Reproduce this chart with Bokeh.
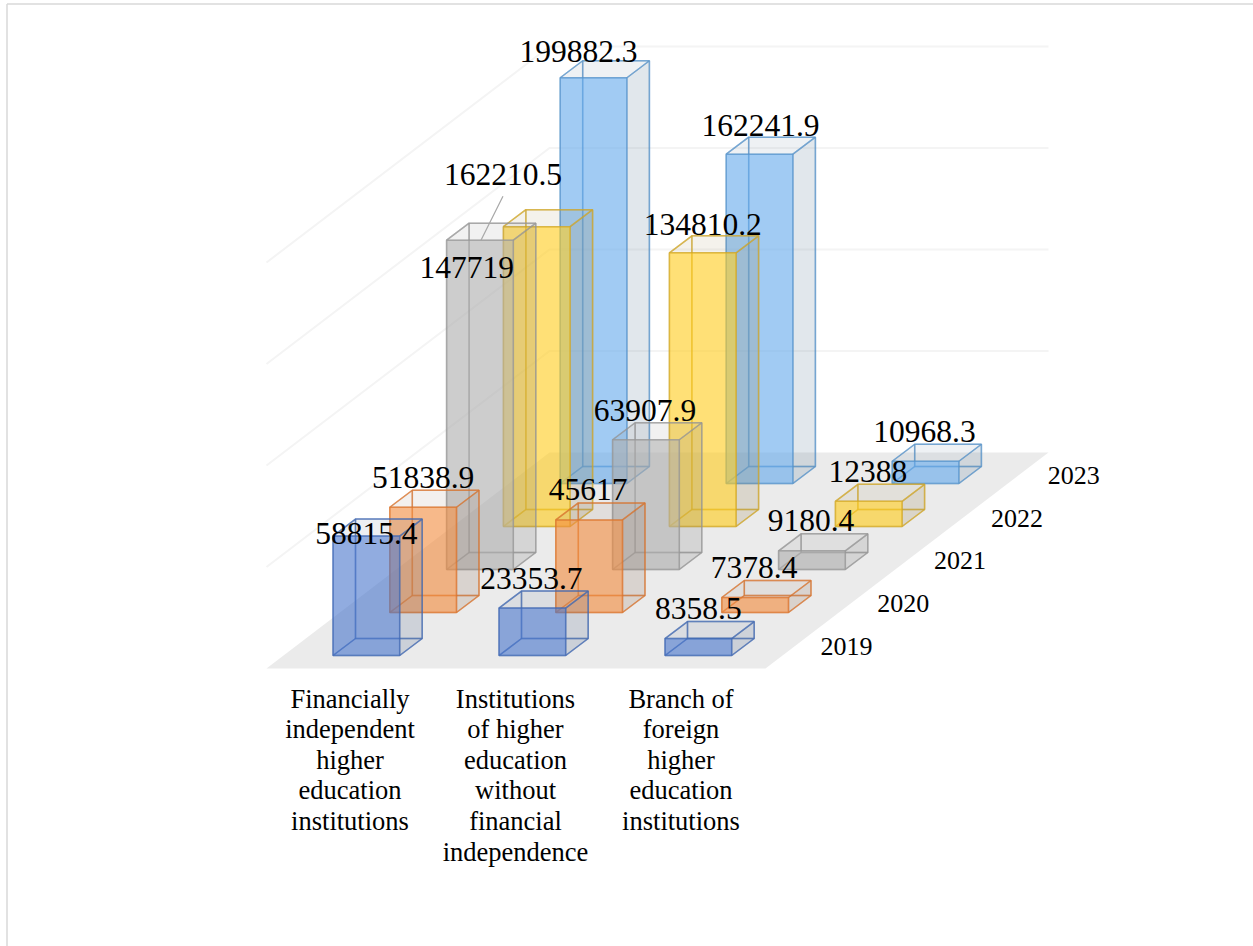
from bokeh.core.properties import value
from bokeh.embed import file_html
from bokeh.models import Range1d
from bokeh.plotting import figure
from bokeh.resources import INLINE

# Research funding by institution type and year
years = ["2019", "2020", "2021", "2022", "2023"]
category_lines = [
    ["Financially", "independent", "higher", "education", "institutions"],
    ["Institutions", "of higher", "education", "without", "financial", "independence"],
    ["Branch of", "foreign", "higher", "education", "institutions"],
]
financially_independent = [58815.4, 51838.9, 162210.5, 147719, 199882.3]
without_independence = [23353.7, 45617, 63907.9, 134810.2, 162241.9]
foreign_branch = [8358.5, 7378.4, 9180.4, 12388, 10968.3]
gridline_values = [50000, 100000, 150000, 200000]

series_values = [financially_independent, without_independence, foreign_branch]
year_colors = ["#4874CC", "#F28A3C", "#ABABAB", "#FFCC1A", "#62A8EB"]
edge_colors = ["#3f68b0", "#d9722c", "#969696", "#d0a526", "#5592c8"]
side_colors = ["#4f6688", "#8a6a55", "#777777", "#8f7c45", "#5a7a96"]

# Oblique projection of (category, year, value) onto the page
ORIGIN_X, ORIGIN_Y = 332.5, 655.0
CAT_STEP = 166.0
YEAR_DX, YEAR_DY = 56.8, -43.0
BAR_W = 66.7
DEPTH_DX, DEPTH_DY = 22.5, -17.0
PX_PER_UNIT = 0.00203

FLOOR_L, FLOOR_R, FLOOR_Y = 266.0, 765.0, 668.0
FLOOR_DX, FLOOR_DY = 283.0, -216.0


def bar_corner(cat, yr, val, right=0, back=0):
    x = ORIGIN_X + cat * CAT_STEP + yr * YEAR_DX + right * BAR_W + back * DEPTH_DX
    y = ORIGIN_Y + yr * YEAR_DY + back * DEPTH_DY - val * PX_PER_UNIT
    return x, y


def face(cat, yr, corners):
    pts = [bar_corner(cat, yr, *c) for c in corners]
    return [p[0] for p in pts], [p[1] for p in pts]


p = figure(width=1253, height=946, x_range=Range1d(0, 1253), y_range=Range1d(946, 0),
           output_backend="svg", toolbar_location=None, min_border=0, outline_line_color=None)
p.axis.visible = False
p.grid.visible = False

# Panel frame
p.line([6.5, 6.5], [946, 3.5], line_color="#d9d9d9", line_width=1.5)
p.line([6.5, 1253], [3.5, 3.5], line_color="#d9d9d9", line_width=1.5)

# Floor and wall gridlines
p.patch([FLOOR_L, FLOOR_R, FLOOR_R + FLOOR_DX, FLOOR_L + FLOOR_DX],
        [FLOOR_Y, FLOOR_Y, FLOOR_Y + FLOOR_DY, FLOOR_Y + FLOOR_DY],
        fill_color="#ebebeb", line_color=None)
for g in gridline_values:
    h = g * PX_PER_UNIT
    p.line([FLOOR_L, FLOOR_L + FLOOR_DX, FLOOR_R + FLOOR_DX],
           [FLOOR_Y - h, FLOOR_Y + FLOOR_DY - h, FLOOR_Y + FLOOR_DY - h],
           line_color="#f4f4f4", line_width=2)

# Translucent boxes, back row first
for yr in range(len(years) - 1, -1, -1):
    for cat in range(len(series_values)):
        v = series_values[cat][yr]
        color, side, edge = year_colors[yr], side_colors[yr], edge_colors[yr]
        faces = [
            ([(v, 0, 1), (v, 1, 1), (0, 1, 1), (0, 0, 1)], color, 0.0),    # back
            ([(v, 0, 0), (v, 0, 1), (0, 0, 1), (0, 0, 0)], color, 0.0),    # left
            ([(0, 0, 0), (0, 1, 0), (0, 1, 1), (0, 0, 1)], color, 0.02),   # bottom
            ([(v, 0, 0), (v, 1, 0), (v, 1, 1), (v, 0, 1)], side, 0.10),    # top
            ([(v, 1, 0), (v, 1, 1), (0, 1, 1), (0, 1, 0)], side, 0.18),    # right
            ([(v, 0, 0), (v, 1, 0), (0, 1, 0), (0, 0, 0)], color, 0.60),   # front
        ]
        for corners, fill, alpha in faces:
            xs, ys = face(cat, yr, corners)
            p.patch(xs, ys, fill_color=fill, fill_alpha=alpha,
                    line_color=edge, line_alpha=0.55, line_width=1.5)

# Offsets of value labels from the top of each bar's front face
label_nudge = {
    (0, 0): (0, -3), (0, 1): (0, -30), (0, 2): (23, -66), (0, 3): (-70, 41), (0, 4): (-15, -26),
    (1, 0): (-1, -30), (1, 1): (-1, -30), (1, 2): (-1, -29), (1, 3): (0, -28), (1, 4): (1, -29),
    (2, 0): (0, -30), (2, 1): (-1, -30), (2, 2): (-1, -30), (2, 3): (-1, -30), (2, 4): (-1, -30),
}

label_x, label_y, label_text = [], [], []
for (cat, yr), (dx, dy) in label_nudge.items():
    v = series_values[cat][yr]
    x, y = bar_corner(cat, yr, v, right=0.5)
    label_x.append(x + dx)
    label_y.append(y + dy)
    label_text.append(f"{v:g}" if v == int(v) else f"{v:.1f}")

# Leader from the displaced label to the grey bar
lx, ly = bar_corner(0, 2, financially_independent[2], right=0.5)
p.line([lx + 1, lx + 23], [ly, ly - 44], line_color="#a6a6a6", line_width=1.2)

p.text(label_x, label_y, text=label_text, text_font=value("Liberation Serif"),
       text_font_size="31.5px", text_color="#000000", text_align="center", text_baseline="middle")

# Year labels along the right edge of the floor
yr_x = [846 + i * YEAR_DX for i in range(len(years))]
yr_y = [646 + i * (-42.8) for i in range(len(years))]
p.text(yr_x, yr_y, text=years, text_font=value("Liberation Serif"), text_font_size="26px",
       text_color="#000000", text_align="center", text_baseline="middle")

# Category labels below the floor
cx, cy, ct = [], [], []
for cat, lines in enumerate(category_lines):
    for n, line in enumerate(lines):
        cx.append(349.5 + cat * 165.5)
        cy.append(698 + n * 30.6)
        ct.append(line)
p.text(cx, cy, text=ct, text_font=value("Liberation Serif"), text_font_size="26.5px",
       text_color="#000000", text_align="center", text_baseline="middle")

open("out.html", "w").write(file_html(p, INLINE))
